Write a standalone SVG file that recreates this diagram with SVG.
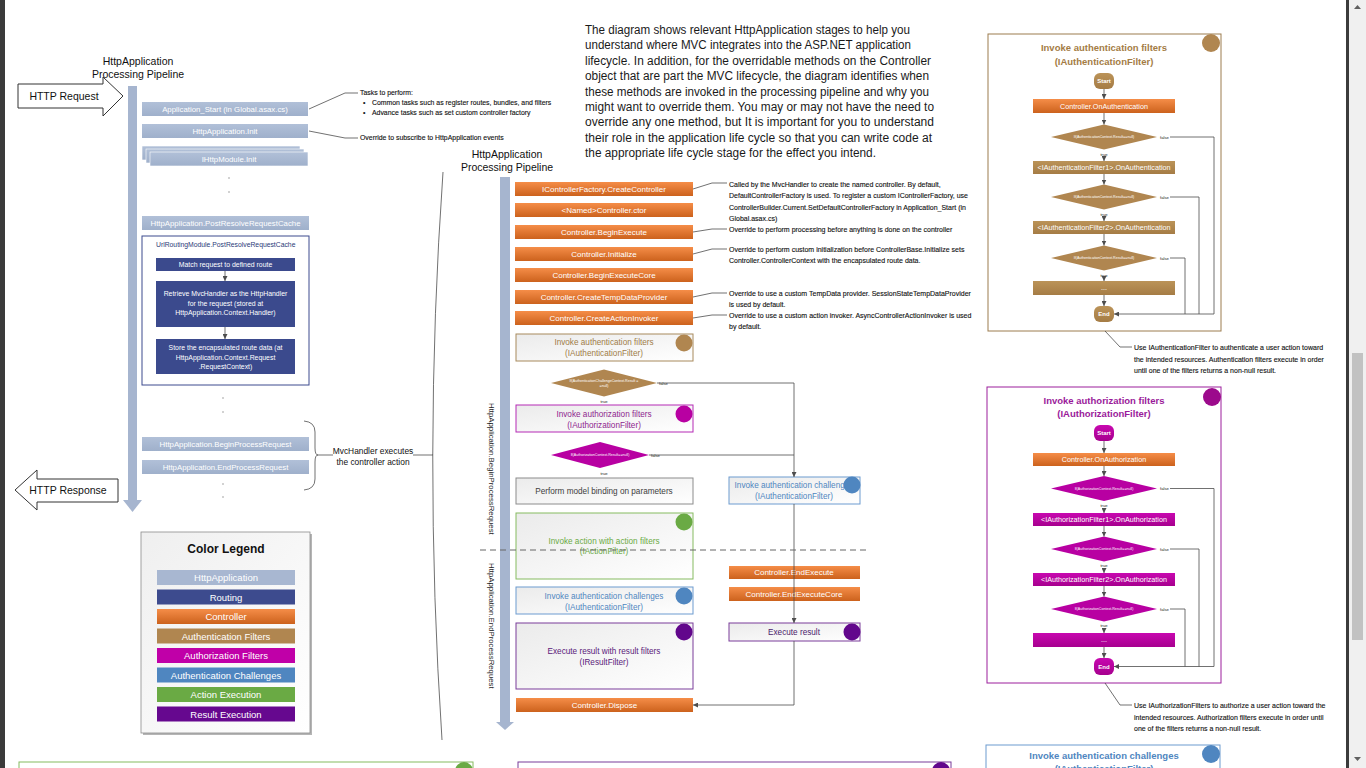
<svg xmlns="http://www.w3.org/2000/svg" width="1366" height="768" viewBox="0 0 1366 768">
<defs>
<style>
.t{font-family:"Liberation Sans",Arial,sans-serif}
.c{text-anchor:middle}
.w{fill:#fff}
.bx{font-size:7.8px;fill:#fff;text-anchor:middle}
.obx{font-size:8px;fill:#fff;text-anchor:middle}
.ann{font-size:7px;fill:#111;stroke:#111;stroke-width:0.12}
.lann{font-size:6.9px;fill:#111;stroke:#111;stroke-width:0.12}
.dt{font-size:3.6px;fill:#fff;text-anchor:middle}
.lbl{font-size:4.2px;fill:#222}
.ttl{font-size:9.5px;font-weight:bold;text-anchor:middle}
.se{font-size:6px;font-weight:bold;fill:#fff;text-anchor:middle}
.rb{font-size:7.2px;fill:#fff;text-anchor:middle}
.leg{font-size:9.5px;fill:#fff;text-anchor:middle}
.mb{font-size:8.2px;text-anchor:middle}
.nv{font-size:6.9px;fill:#fff;text-anchor:middle}
.para{font-size:12px;fill:#1a1a1a}
.ln{fill:none;stroke:#4d4d4d;stroke-width:0.8}
.an{fill:none;stroke:#333;stroke-width:0.7}
.app{fill:url(#gApp)}
.org{fill:url(#gOr)}
.dot{fill:#9a9a9a}
</style>
<linearGradient id="gOr" x1="0" y1="0" x2="0" y2="1"><stop offset="0" stop-color="#f58d48"/><stop offset="1" stop-color="#cc621d"/></linearGradient>
<linearGradient id="gTan" x1="0" y1="0" x2="0" y2="1"><stop offset="0" stop-color="#bb9358"/><stop offset="1" stop-color="#a57c45"/></linearGradient>
<linearGradient id="gMag" x1="0" y1="0" x2="0" y2="1"><stop offset="0" stop-color="#c808b0"/><stop offset="1" stop-color="#a6008e"/></linearGradient>
<linearGradient id="gApp" x1="0" y1="0" x2="0" y2="1"><stop offset="0" stop-color="#b1c0d8"/><stop offset="1" stop-color="#9fb0cb"/></linearGradient>
<linearGradient id="gW" x1="0" y1="0" x2="1" y2="1"><stop offset="0" stop-color="#ebebeb"/><stop offset="1" stop-color="#ffffff"/></linearGradient>
<linearGradient id="gLeg" x1="0" y1="0" x2="1" y2="1"><stop offset="0" stop-color="#efefef"/><stop offset="1" stop-color="#ffffff"/></linearGradient>
<marker id="ah" viewBox="0 0 10 10" refX="10" refY="5" markerUnits="userSpaceOnUse" markerWidth="5" markerHeight="5" orient="auto"><path d="M0,0 L10,5 L0,10 z" fill="#4d4d4d"/></marker>
</defs>

<rect x="0" y="0" width="1366" height="768" fill="#fff"/>

<!-- ============ LEFT PIPELINE ============ -->
<g id="left-pipeline-title">
<text class="t c" x="138" y="65" font-size="10.5" fill="#111">HttpApplication</text>
<text class="t c" x="138" y="78" font-size="10.5" fill="#111">Processing Pipeline</text>
</g>
<g id="http-request">
<polygon points="18,84 103,84 103,77 123,96 103,116 103,108 18,108" fill="#fff" stroke="#333" stroke-width="1"/>
<text class="t c" x="64" y="99.5" font-size="10.5" fill="#111">HTTP Request</text>
</g>
<g id="http-response">
<polygon points="15,490 37,470 37,479 118,479 118,502 37,502 37,510" fill="#fff" stroke="#333" stroke-width="1"/>
<text class="t c" x="68" y="494" font-size="10.5" fill="#111">HTTP Response</text>
</g>
<g id="left-bar">
<rect x="128" y="86" width="9" height="414" fill="#a6b5cf"/>
<polygon points="123,500 142,500 132.5,512" fill="#a6b5cf"/>
</g>
<g id="app-start"><rect class="app" x="142" y="102" width="166" height="14"/><text class="t bx" x="225" y="111.7">Application_Start (in Global.asax.cs)</text></g>
<g id="app-init"><rect class="app" x="142" y="124" width="166" height="14"/><text class="t bx" x="225" y="133.7">HttpApplication.Init</text></g>
<g id="module-init">
<rect class="app" x="142" y="146" width="158" height="14" stroke="#fff" stroke-width="0.6"/>
<rect class="app" x="146" y="149" width="158" height="14" stroke="#fff" stroke-width="0.6"/>
<rect class="app" x="150" y="152" width="158" height="14" stroke="#fff" stroke-width="0.6"/>
<text class="t bx" x="229" y="161.7">IHttpModule.Init</text>
</g>
<circle class="dot" cx="229" cy="178" r="0.8"/><circle class="dot" cx="229" cy="192" r="0.8"/>
<g id="post-resolve"><rect class="app" x="142" y="216" width="167" height="14"/><text class="t bx" x="225.5" y="225.7">HttpApplication.PostResolveRequestCache</text></g>
<g id="routing-module">
<rect x="142" y="236" width="167" height="149" fill="#fff" stroke="#3d4b8e" stroke-width="1"/>
<text class="t" x="156" y="246.5" font-size="6.8" fill="#2b3a78">UrlRoutingModule.PostResolveRequestCache</text>
</g>
<g id="match-route"><rect x="156" y="258" width="139" height="13" fill="#3b4a8d"/><text class="t nv" x="225.5" y="266.9">Match request to defined route</text></g>
<g id="retrieve-handler"><rect x="156" y="281" width="139" height="46" fill="#3b4a8d"/>
<text class="t nv" x="225.5" y="296.4">Retrieve MvcHandler as the HttpHandler</text>
<text class="t nv" x="225.5" y="305.6">for the request (stored at</text>
<text class="t nv" x="225.5" y="314.8">HttpApplication.Context.Handler)</text></g>
<g id="store-route"><rect x="156" y="339" width="139" height="35" fill="#3b4a8d"/>
<text class="t nv" x="225.5" y="350.4">Store the encapsulated route data (at</text>
<text class="t nv" x="225.5" y="359.6">HttpApplication.Context.Request</text>
<text class="t nv" x="225.5" y="368.8">.RequestContext)</text></g>
<circle class="dot" cx="223" cy="398" r="0.8"/><circle class="dot" cx="223" cy="412" r="0.8"/>
<g id="begin-process"><rect class="app" x="142" y="437" width="167" height="14"/><text class="t bx" x="225.5" y="446.7">HttpApplication.BeginProcessRequest</text></g>
<g id="end-process"><rect class="app" x="142" y="460" width="167" height="14"/><text class="t bx" x="225.5" y="469.7">HttpApplication.EndProcessRequest</text></g>
<circle class="dot" cx="223" cy="484" r="0.8"/><circle class="dot" cx="223" cy="497" r="0.8"/>
<g id="mvchandler-note">
<text class="t c" x="373" y="453.5" font-size="8.4" fill="#111">MvcHandler executes</text>
<text class="t c" x="373" y="464.8" font-size="8.4" fill="#111">the controller action</text>
</g>

<!-- ============ LEFT ANNOTATIONS ============ -->
<g id="tasks-note">
<text class="t lann" x="360" y="95.4">Tasks to perform:</text>
<text class="t lann" x="363" y="105.4">•</text><text class="t lann" x="372" y="105.4">Common tasks such as register routes, bundles, and filters</text>
<text class="t lann" x="363" y="115.4">•</text><text class="t lann" x="372" y="115.4">Advance tasks such as set custom controller factory</text>
</g>
<g id="init-note"><text class="t lann" x="360" y="140.4">Override to subscribe to HttpApplication events</text></g>

<!-- ============ LEGEND ============ -->
<g id="legend">
<rect x="143" y="534" width="169" height="201" fill="#b5b5b5"/>
<rect x="141" y="532" width="169" height="201" fill="url(#gLeg)" stroke="#8c8c8c" stroke-width="0.8"/>
<text class="t c" x="226" y="553" font-size="12" font-weight="bold" fill="#111">Color Legend</text>
<rect x="157" y="570" width="138" height="15" fill="#a8b7d1"/><text class="t leg" x="226" y="581">HttpApplication</text>
<rect x="157" y="589.5" width="138" height="15" fill="#3d4b8e"/><text class="t leg" x="226" y="600.5">Routing</text>
<rect x="157" y="609" width="138" height="15" fill="url(#gOr)"/><text class="t leg" x="226" y="620">Controller</text>
<rect x="157" y="628.5" width="138" height="15" fill="#b08650"/><text class="t leg" x="226" y="639.5">Authentication Filters</text>
<rect x="157" y="648" width="138" height="15" fill="#c000a8"/><text class="t leg" x="226" y="659">Authorization Filters</text>
<rect x="157" y="667.5" width="138" height="15" fill="#4f86c0"/><text class="t leg" x="226" y="678.5">Authentication Challenges</text>
<rect x="157" y="687" width="138" height="15" fill="#6aaa44"/><text class="t leg" x="226" y="698">Action Execution</text>
<rect x="157" y="706.5" width="138" height="15" fill="#66088f"/><text class="t leg" x="226" y="717.5">Result Execution</text>
</g>

<!-- ============ PARAGRAPH ============ -->
<g id="description">
<text class="t para" x="585" y="34" textLength="325" lengthAdjust="spacingAndGlyphs">The diagram shows relevant HttpApplication stages to help you</text>
<text class="t para" x="585" y="49.4" textLength="326" lengthAdjust="spacingAndGlyphs">understand where MVC integrates into the ASP.NET application</text>
<text class="t para" x="585" y="64.8" textLength="346" lengthAdjust="spacingAndGlyphs">lifecycle. In addition, for the overridable methods on the Controller</text>
<text class="t para" x="585" y="80.2" textLength="344" lengthAdjust="spacingAndGlyphs">object that are part the MVC lifecycle, the diagram identifies when</text>
<text class="t para" x="585" y="95.6" textLength="344" lengthAdjust="spacingAndGlyphs">these methods are invoked in the processing pipeline and why you</text>
<text class="t para" x="585" y="111" textLength="349" lengthAdjust="spacingAndGlyphs">might want to override them. You may or may not have the need to</text>
<text class="t para" x="585" y="126.4" textLength="349" lengthAdjust="spacingAndGlyphs">override any one method, but It is important for you to understand</text>
<text class="t para" x="585" y="141.8" textLength="347" lengthAdjust="spacingAndGlyphs">their role in the application life cycle so that you can write code at</text>
<text class="t para" x="585" y="157.2" textLength="291" lengthAdjust="spacingAndGlyphs">the appropriate life cycle stage for the effect you intend.</text>
</g>

<!-- ============ MIDDLE PIPELINE ============ -->
<g id="mid-pipeline-title">
<text class="t c" x="507" y="158" font-size="10.5" fill="#111">HttpApplication</text>
<text class="t c" x="507" y="171" font-size="10.5" fill="#111">Processing Pipeline</text>
</g>
<g id="mid-bar">
<rect x="500" y="177" width="10" height="545" fill="#a6b5cf"/>
<polygon points="496,722 514,722 505,730" fill="#a6b5cf"/>
<text class="t" transform="translate(489,403) rotate(90)" font-size="7.8" fill="#222">HttpApplication.BeginProcessRequest</text>
<text class="t" transform="translate(489,563) rotate(90)" font-size="7.8" fill="#222">HttpApplication.EndProcessRequest</text>
</g>
<g id="create-controller"><rect class="org" x="515" y="182" width="178" height="14"/><text class="t obx" x="604" y="191.8">IControllerFactory.CreateController</text></g>
<g id="controller-ctor"><rect class="org" x="515" y="203" width="178" height="14"/><text class="t obx" x="604" y="212.8">&lt;Named&gt;Controller.ctor</text></g>
<g id="begin-execute"><rect class="org" x="515" y="225" width="178" height="14"/><text class="t obx" x="604" y="234.8">Controller.BeginExecute</text></g>
<g id="initialize"><rect class="org" x="515" y="247" width="178" height="14"/><text class="t obx" x="604" y="256.8">Controller.Initialize</text></g>
<g id="begin-execute-core"><rect class="org" x="515" y="268" width="178" height="14"/><text class="t obx" x="604" y="277.8">Controller.BeginExecuteCore</text></g>
<g id="create-tempdata"><rect class="org" x="515" y="290" width="178" height="14"/><text class="t obx" x="604" y="299.8">Controller.CreateTempDataProvider</text></g>
<g id="create-invoker"><rect class="org" x="515" y="311" width="178" height="14"/><text class="t obx" x="604" y="320.8">Controller.CreateActionInvoker</text></g>

<g id="authn-filters">
<rect x="516" y="334" width="177" height="27" fill="url(#gW)" stroke="#a88a5c" stroke-width="1"/>
<text class="t mb" x="604" y="344.8" fill="#a07c48">Invoke authentication filters</text>
<text class="t mb" x="604" y="356" fill="#a07c48">(IAuthenticationFilter)</text>
<circle cx="684" cy="343" r="8.5" fill="#b08650"/>
</g>
<g id="authn-decision">
<polygon points="551,383 604,369.5 657,383 604,396.5" fill="#b08650"/>
<text class="t dt" x="604" y="381.5">If(AuthenticationChallengeContext.Result =</text>
<text class="t dt" x="604" y="386.5">=null)</text>
<text class="t lbl" x="659" y="384.5">false</text>
<text class="t lbl c" x="604" y="402.5">true</text>
</g>
<g id="authz-filters">
<rect x="516" y="405" width="177" height="27" fill="url(#gW)" stroke="#b52ab5" stroke-width="1"/>
<text class="t mb" x="604" y="416.6" fill="#8e1f8e">Invoke authorization filters</text>
<text class="t mb" x="604" y="427.6" fill="#8e1f8e">(IAuthorizationFilter)</text>
<circle cx="684" cy="414" r="8.5" fill="#b800a2"/>
</g>
<g id="authz-decision">
<polygon points="551,455 600,442 649,455 600,468" fill="#b800a2"/>
<text class="t dt" x="600" y="456.3">If(AuthorizationContext.Result==null)</text>
<text class="t lbl" x="651" y="456.5">false</text>
<text class="t lbl c" x="604" y="474.5">true</text>
</g>
<g id="model-binding">
<rect x="516" y="478" width="177" height="26" fill="url(#gW)" stroke="#8c8c8c" stroke-width="1"/>
<text class="t mb" x="604" y="493.8" fill="#404040">Perform model binding on parameters</text>
</g>
<g id="authn-challenges-right">
<rect x="729" y="477" width="131" height="27" fill="url(#gW)" stroke="#6d9bd0" stroke-width="1"/>
<text class="t mb" x="794" y="488.3" fill="#4f86c0">Invoke authentication challenges</text>
<text class="t mb" x="794" y="499.3" fill="#4f86c0">(IAuthenticationFilter)</text>
<circle cx="852" cy="485" r="8.5" fill="#4f86c0"/>
</g>
<g id="action-filters">
<rect x="516" y="513" width="177" height="66" fill="url(#gW)" stroke="#86bb60" stroke-width="1"/>
<text class="t mb" x="604" y="543.8" fill="#6aaa44">Invoke action with action filters</text>
<text class="t mb" x="604" y="553.8" fill="#6aaa44">(IActionFilter)</text>
<circle cx="684" cy="522" r="8.5" fill="#6aaa44"/>
</g>
<g id="end-execute"><rect class="org" x="729" y="566" width="131" height="13"/><text class="t obx" x="794" y="575.3">Controller.EndExecute</text></g>
<g id="end-execute-core"><rect class="org" x="729" y="587" width="131" height="14"/><text class="t obx" x="794" y="596.8">Controller.EndExecuteCore</text></g>
<g id="authn-challenges-left">
<rect x="516" y="587" width="177" height="27" fill="url(#gW)" stroke="#6d9bd0" stroke-width="1"/>
<text class="t mb" x="604" y="598.8" fill="#4f86c0">Invoke authentication challenges</text>
<text class="t mb" x="604" y="609.8" fill="#4f86c0">(IAuthenticationFilter)</text>
<circle cx="684" cy="596" r="8.5" fill="#4f86c0"/>
</g>
<g id="execute-result">
<rect x="729" y="623" width="131" height="18" fill="url(#gW)" stroke="#7a3d9a" stroke-width="1"/>
<text class="t mb" x="794" y="634.8" fill="#4b1a6b">Execute result</text>
<circle cx="852" cy="632" r="8.5" fill="#62078c"/>
</g>
<g id="result-filters">
<rect x="516" y="623" width="177" height="66" fill="url(#gW)" stroke="#7a3d9a" stroke-width="1"/>
<text class="t mb" x="604" y="653.8" fill="#5a1a7a">Execute result with result filters</text>
<text class="t mb" x="604" y="664.8" fill="#5a1a7a">(IResultFilter)</text>
<circle cx="684" cy="632" r="8.5" fill="#62078c"/>
</g>
<g id="dispose"><rect class="org" x="516" y="698" width="177" height="14"/><text class="t obx" x="604.5" y="707.8">Controller.Dispose</text></g>

<!-- ============ MIDDLE ANNOTATIONS ============ -->
<g id="controller-notes">
<text class="t ann" x="729" y="186.5">Called by the MvcHandler to create the named controller. By default,</text>
<text class="t ann" x="729" y="198">DefaultControllerFactory is used. To register a custom IControllerFactory, use</text>
<text class="t ann" x="729" y="209.5">ControllerBuilder.Current.SetDefaultControllerFactory in Application_Start (in</text>
<text class="t ann" x="729" y="221">Global.asax.cs)</text>
<text class="t ann" x="729" y="231.5">Override to perform processing before anything is done on the controller</text>
<text class="t ann" x="729" y="251.5">Override to perform custom initialization before ControllerBase.Initialize sets</text>
<text class="t ann" x="729" y="263">Controller.ControllerContext with the encapsulated route data.</text>
<text class="t ann" x="729" y="295.5">Override to use a custom TempData provider. SessionStateTempDataProvider</text>
<text class="t ann" x="729" y="307">is used by default.</text>
<text class="t ann" x="729" y="317.5">Override to use a custom action invoker. AsyncControllerActionInvoker is used</text>
<text class="t ann" x="729" y="329">by default.</text>
</g>

<!-- ============ RIGHT: AUTHENTICATION FILTERS DETAIL ============ -->
<g id="authn-detail">
<rect x="988" y="34" width="233" height="297" fill="#fff" stroke="#9c7c4e" stroke-width="1"/>
<circle cx="1211" cy="43" r="9" fill="#b08650"/>
<text class="t ttl" x="1104" y="50.5" fill="#a47c44">Invoke authentication filters</text>
<text class="t ttl" x="1104" y="64.5" fill="#a47c44">(IAuthenticationFilter)</text>
</g>
<g id="authn-start"><rect x="1094" y="73" width="20" height="16" rx="6" fill="url(#gTan)"/><text class="t se" x="1104" y="83.2">Start</text></g>
<g id="on-authentication"><rect class="org" x="1033" y="99" width="142" height="14"/><text class="t rb" x="1104" y="108.5">Controller.OnAuthentication</text></g>
<g id="authn-d1"><polygon points="1051,137 1104,124.5 1157,137 1104,149.5" fill="#b08650"/><text class="t dt" x="1104" y="138.3">If(AuthenticationContext.Result==null)</text><text class="t lbl" x="1160" y="138.5">false</text><text class="t lbl c" x="1104" y="155.5">true</text></g>
<g id="authn-f1"><rect x="1033" y="161" width="142" height="13" fill="url(#gTan)"/><text class="t rb" x="1104" y="170">&lt;IAuthenticationFilter1&gt;.OnAuthentication</text></g>
<g id="authn-d2"><polygon points="1051,197 1104,184.5 1157,197 1104,209.5" fill="#b08650"/><text class="t dt" x="1104" y="198.3">If(AuthenticationContext.Result==null)</text><text class="t lbl" x="1160" y="198.5">false</text><text class="t lbl c" x="1104" y="215.5">true</text></g>
<g id="authn-f2"><rect x="1033" y="221" width="142" height="13" fill="url(#gTan)"/><text class="t rb" x="1104" y="230">&lt;IAuthenticationFilter2&gt;.OnAuthentication</text></g>
<g id="authn-d3"><polygon points="1051,258 1104,245.5 1157,258 1104,270.5" fill="#b08650"/><text class="t dt" x="1104" y="259.3">If(AuthenticationContext.Result==null)</text><text class="t lbl" x="1160" y="259.5">false</text><text class="t lbl c" x="1104" y="276.5">true</text></g>
<g id="authn-more"><rect x="1033" y="281" width="142" height="14" fill="url(#gTan)"/><text class="t rb" x="1104" y="290">...</text></g>
<g id="authn-end"><rect x="1094" y="306" width="20" height="16" rx="6" fill="url(#gTan)"/><text class="t se" x="1104" y="316.2">End</text></g>
<g id="authn-note">
<text class="t ann" x="1134" y="350.4">Use IAuthenticationFilter to authenticate a user action toward</text>
<text class="t ann" x="1134" y="361.9">the intended resources. Authentication filters execute in order</text>
<text class="t ann" x="1134" y="373.4">until one of the filters returns a non-null result.</text>
</g>

<!-- ============ RIGHT: AUTHORIZATION FILTERS DETAIL ============ -->
<g id="authz-detail">
<rect x="987" y="387" width="234" height="296" fill="#fff" stroke="#9c1f9c" stroke-width="1"/>
<circle cx="1212" cy="397" r="9" fill="#9c0a8c"/>
<text class="t ttl" x="1104" y="403.5" fill="#9a1a9a">Invoke authorization filters</text>
<text class="t ttl" x="1104" y="416.5" fill="#9a1a9a">(IAuthorizationFilter)</text>
</g>
<g id="authz-start"><rect x="1094" y="425" width="20" height="16" rx="6" fill="url(#gMag)"/><text class="t se" x="1104" y="435.2">Start</text></g>
<g id="on-authorization"><rect class="org" x="1033" y="453" width="142" height="13"/><text class="t rb" x="1104" y="462">Controller.OnAuthorization</text></g>
<g id="authz-d1"><polygon points="1051,488.5 1104,476 1157,488.5 1104,501" fill="#b800a2"/><text class="t dt" x="1104" y="489.8">If(AuthorizationContext.Result==null)</text><text class="t lbl" x="1160" y="490">false</text><text class="t lbl c" x="1104" y="506.5">true</text></g>
<g id="authz-f1"><rect x="1033" y="513" width="142" height="13" fill="url(#gMag)"/><text class="t rb" x="1104" y="522">&lt;IAuthorizationFilter1&gt;.OnAuthorization</text></g>
<g id="authz-d2"><polygon points="1051,549 1104,536.5 1157,549 1104,561.5" fill="#b800a2"/><text class="t dt" x="1104" y="550.3">If(AuthorizationContext.Result==null)</text><text class="t lbl" x="1160" y="550.5">false</text><text class="t lbl c" x="1104" y="567">true</text></g>
<g id="authz-f2"><rect x="1033" y="573" width="142" height="13" fill="url(#gMag)"/><text class="t rb" x="1104" y="582">&lt;IAuthorizationFilter2&gt;.OnAuthorization</text></g>
<g id="authz-d3"><polygon points="1051,609 1104,596.5 1157,609 1104,621.5" fill="#b800a2"/><text class="t dt" x="1104" y="610.3">If(AuthorizationContext.Result==null)</text><text class="t lbl" x="1160" y="610.5">false</text><text class="t lbl c" x="1104" y="627">true</text></g>
<g id="authz-more"><rect x="1033" y="633" width="142" height="14" fill="url(#gMag)"/><text class="t rb" x="1104" y="642">...</text></g>
<g id="authz-end"><rect x="1094" y="658" width="20" height="17" rx="6" fill="url(#gMag)"/><text class="t se" x="1104" y="668.7">End</text></g>
<g id="authz-note">
<text class="t ann" x="1134" y="708.4">Use IAuthorizationFilters to authorize a user action toward the</text>
<text class="t ann" x="1134" y="719.9">intended resources. Authorization filters execute in order until</text>
<text class="t ann" x="1134" y="731.4">one of the filters returns a non-null result.</text>
</g>

<!-- ============ BOTTOM (cut off) ============ -->
<g id="bottom-action-detail"><rect x="19" y="762" width="454" height="40" fill="#fff" stroke="#86bb60" stroke-width="1"/><circle cx="464" cy="771" r="9" fill="#6aaa44"/></g>
<g id="bottom-result-detail"><rect x="518" y="762" width="433" height="40" fill="#fff" stroke="#7a3d9a" stroke-width="1"/><circle cx="941" cy="771" r="9" fill="#62078c"/></g>
<g id="bottom-challenge-detail">
<rect x="986" y="745" width="234" height="40" fill="#fff" stroke="#6d9bd0" stroke-width="1"/>
<circle cx="1211" cy="754" r="9" fill="#4f86c0"/>
<text class="t ttl" x="1104" y="759" fill="#4f86c0">Invoke authentication challenges</text>
<text class="t ttl" x="1104" y="772" fill="#4f86c0">(IAuthenticationFilter)</text>
</g>

<!-- ============ CONNECTORS ============ -->
<g id="connectors">
<path class="an" d="M309,109 L345,93 L358,93"/>
<path class="an" d="M309,131 L345,138 L358,138"/>
<path class="ln" d="M225,271 L225,281" marker-end="url(#ah)"/>
<path class="ln" d="M225,327 L225,339" marker-end="url(#ah)"/>
<path class="an" d="M304,421 Q315,422 315,432 L315,448 Q315,455 318,455 Q315,455 315,462 L315,479 Q315,489 304,490"/>
<path class="an" d="M318,455 L333,455"/>
<path class="an" d="M413,455 L433,455"/>
<path class="an" d="M443,172 Q423,455 442,740"/>
<path class="ln" d="M657,383 L794,383 L794,477" marker-end="url(#ah)"/>
<path class="ln" d="M649,455 L794,455"/>
<path class="ln" d="M794,504 L794,623" marker-end="url(#ah)"/>
<path class="ln" d="M794,641 L794,705 L693,705" marker-end="url(#ah)"/>
<path fill="none" stroke="#666" stroke-width="1" stroke-dasharray="6,4" d="M480,550 L870,550"/>
<path class="an" d="M693,189 L712,183 L727,183"/>
<path class="an" d="M693,232 L712,229 L727,229"/>
<path class="an" d="M693,254 L712,249 L727,249"/>
<path class="an" d="M693,297 L712,293 L727,293"/>
<path class="an" d="M693,318 L712,315 L727,315"/>
<path class="ln" d="M1104,89 L1104,99" marker-end="url(#ah)"/>
<path class="ln" d="M1104,113 L1104,124.5" marker-end="url(#ah)"/>
<path class="ln" d="M1104,157 L1104,161" marker-end="url(#ah)"/>
<path class="ln" d="M1104,174 L1104,184.5" marker-end="url(#ah)"/>
<path class="ln" d="M1104,217 L1104,221" marker-end="url(#ah)"/>
<path class="ln" d="M1104,234 L1104,245.5" marker-end="url(#ah)"/>
<path class="ln" d="M1104,278 L1104,281" marker-end="url(#ah)"/>
<path class="ln" d="M1104,295 L1104,306" marker-end="url(#ah)"/>
<path class="ln" d="M1170,137 L1214,137 L1214,314 L1114,314" marker-end="url(#ah)"/>
<path class="ln" d="M1170,197 L1199,197 L1199,314"/>
<path class="ln" d="M1170,258 L1185,258 L1185,314"/>
<path class="an" d="M1105,331 L1120,347 L1132,347"/>
<path class="ln" d="M1104,441 L1104,453" marker-end="url(#ah)"/>
<path class="ln" d="M1104,466 L1104,476" marker-end="url(#ah)"/>
<path class="ln" d="M1104,508 L1104,513" marker-end="url(#ah)"/>
<path class="ln" d="M1104,526 L1104,536.5" marker-end="url(#ah)"/>
<path class="ln" d="M1104,568 L1104,573" marker-end="url(#ah)"/>
<path class="ln" d="M1104,586 L1104,596.5" marker-end="url(#ah)"/>
<path class="ln" d="M1104,628 L1104,633" marker-end="url(#ah)"/>
<path class="ln" d="M1104,647 L1104,658" marker-end="url(#ah)"/>
<path class="ln" d="M1170,488.5 L1214,488.5 L1214,666.5 L1114,666.5" marker-end="url(#ah)"/>
<path class="ln" d="M1170,549 L1199,549 L1199,666.5"/>
<path class="ln" d="M1170,609 L1185,609 L1185,666.5"/>
<path class="an" d="M1105,683 L1120,705 L1132,705"/>
</g>

<!-- ============ VIEWER FRAME ============ -->
<g id="viewer-frame">
<rect x="0" y="0" width="5" height="768" fill="#3b3b3b"/>
<rect x="1346" y="0" width="3" height="768" fill="#3b3b3b"/>
<rect x="1349" y="0" width="17" height="768" fill="#f0f0f0"/>
<rect x="1352" y="353" width="11" height="287" fill="#c2c2c2"/>
<polygon points="1354,9 1357.5,5 1361,9" fill="#606060"/>
<polygon points="1354,757 1361,757 1357.5,761" fill="#606060"/>
</g>
</svg>
